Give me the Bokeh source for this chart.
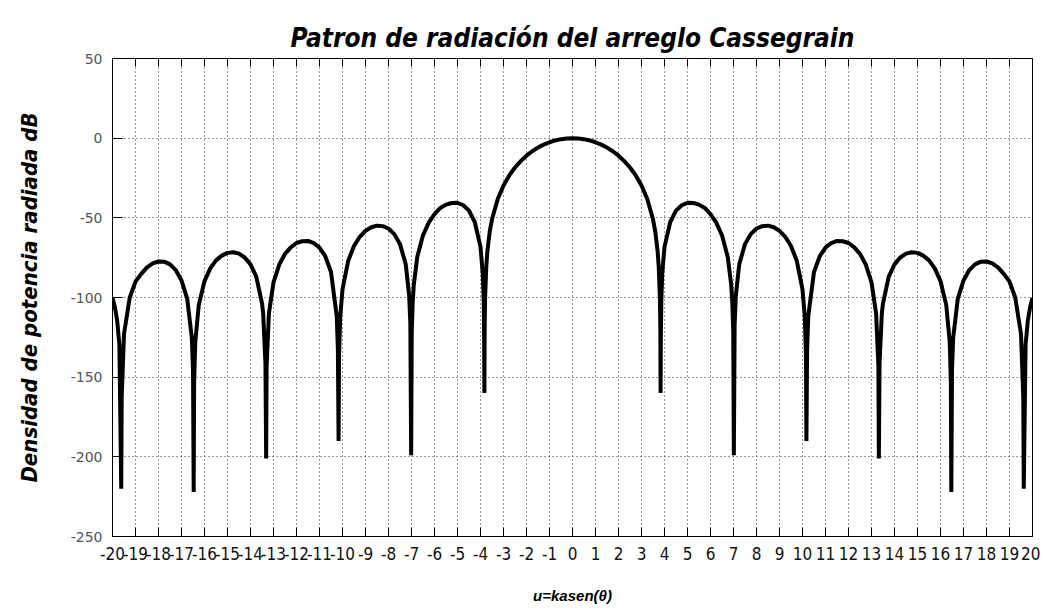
from bokeh.plotting import figure
from bokeh.models import FixedTicker, LinearAxis, Range1d, CustomJSTickFormatter
from bokeh.embed import file_html
from bokeh.resources import INLINE

# Radiation pattern values (u >= 0 side; the pattern is symmetric)
u_pos = [0, 0.25, 0.5, 0.75, 1.0, 1.25, 1.5, 1.75, 2.0, 2.25, 2.5, 2.75, 3.0, 3.25, 3.5, 3.6, 3.7, 3.75,
         3.8, 3.82, 3.83, 3.84, 3.86, 3.9, 4.0, 4.25, 4.5, 4.75, 5.0, 5.25, 5.5, 5.75, 6.0, 6.25, 6.5, 6.75,
         6.9, 6.95, 6.99, 7.015, 7.05, 7.1, 7.25, 7.5, 7.75, 8.0, 8.25, 8.5, 8.75, 9.0, 9.25, 9.5, 9.75,
         10.0, 10.1, 10.15, 10.17, 10.2, 10.25, 10.5, 10.75, 11.0, 11.25, 11.5, 11.75, 12.0, 12.25, 12.5,
         12.75, 13.0, 13.2, 13.3, 13.32, 13.35, 13.45, 13.5, 13.75, 14.0, 14.25, 14.5, 14.75, 15.0, 15.25,
         15.5, 15.75, 16.0, 16.25, 16.4, 16.45, 16.47, 16.5, 16.55, 16.75, 17.0, 17.25, 17.5, 17.75, 18.0,
         18.25, 18.5, 18.75, 19.0, 19.25, 19.5, 19.6, 19.62, 19.7, 19.8, 19.9, 20.0]
db_pos = [0, -0.16, -0.63, -1.43, -2.55, -4.04, -5.92, -8.22, -11.0, -14.4, -18.4, -23.4, -29.7, -38.2,
          -50.9, -58.7, -70.8, -80.9, -100.1, -120.1, -160, -127.1, -102.6, -85.2, -68.2, -52.6, -45.5,
          -42.1, -40.6, -40.7, -41.7, -43.8, -47.7, -53.0, -61.0, -74.6, -92.0, -103.5, -122.4, -199,
          -116.7, -98.9, -79.1, -66.5, -60.2, -56.7, -55.2, -54.9, -55.9, -58.2, -61.9, -67.7, -76.9,
          -94.9, -112.3, -135.2, -190, -132.9, -111.8, -84.0, -74.1, -68.7, -65.8, -64.5, -64.7, -65.8,
          -68.5, -72.6, -79.3, -90.5, -110.0, -143.1, -201, -141.2, -109.9, -103.6, -86.9, -79.2, -74.9,
          -72.5, -71.6, -72.0, -73.7, -76.7, -81.7, -89.7, -104.8, -127.6, -152.3, -222, -145.3, -125.5,
          -100.9, -89.3, -82.8, -79.2, -77.5, -77.4, -78.6, -81.1, -85.2, -90.0, -100.0, -122.9, -163,
          -220, -129.6, -114.2, -105.8, -100.2]

u_vals = [-x for x in reversed(u_pos[1:])] + u_pos
db_vals = list(reversed(db_pos[1:])) + db_pos

x_ticks = list(range(-20, 21))
y_ticks = [-250, -200, -150, -100, -50, 0, 50]

title_text = "Patron de radiación del arreglo Cassegrain"
x_label = "u=kasen(θ)"
y_label = "Densidad de potencia radiada dB"

narrow = "'DejaVu Sans Condensed', 'Liberation Sans Narrow', 'Liberation Sans', sans-serif"

p = figure(width=1040, height=606, x_range=Range1d(-20, 20), y_range=Range1d(-250, 50),
           output_backend="svg", toolbar_location=None,
           min_border_left=112, min_border_right=8, min_border_top=58, min_border_bottom=69,
           title=title_text, x_axis_label=x_label, y_axis_label=y_label)

p.background_fill_color = "white"
p.border_fill_color = "white"
p.outline_line_color = "black"
p.outline_line_width = 1

p.title.align = "center"
p.title.text_font = narrow
p.title.text_font_style = "bold italic"
p.title.text_font_size = "26px"
p.title.text_color = "black"
p.title.standoff = 12

p.line(u_vals, db_vals, line_color="black", line_width=4)

# x axis (bottom)
xa = p.xaxis[0]
xa.ticker = FixedTicker(ticks=x_ticks)
xa.formatter = CustomJSTickFormatter(code="return tick.toString();")
xa.minor_tick_line_color = None
xa.major_tick_in = 9
xa.major_tick_out = 0
xa.major_tick_line_color = "black"
xa.axis_line_color = "black"
xa.major_label_text_font = narrow
xa.major_label_text_font_size = "17px"
xa.major_label_text_color = "#111111"
xa.major_label_standoff = 10
xa.axis_label_text_font = "Liberation Sans"
xa.axis_label_text_font_style = "bold italic"
xa.axis_label_text_font_size = "15px"
xa.axis_label_text_color = "black"
xa.axis_label_standoff = 24

# y axis (left)
ya = p.yaxis[0]
ya.ticker = FixedTicker(ticks=y_ticks)
ya.formatter = CustomJSTickFormatter(code="return tick.toString();")
ya.minor_tick_line_color = None
ya.major_tick_in = 10
ya.major_tick_out = 0
ya.major_tick_line_color = "black"
ya.axis_line_color = "black"
ya.major_label_text_font = "DejaVu Sans"
ya.major_label_text_font_size = "14px"
ya.major_label_text_color = "#555555"
ya.major_label_standoff = 10
ya.axis_label_text_font = narrow
ya.axis_label_text_font_style = "bold italic"
ya.axis_label_text_font_size = "22px"
ya.axis_label_text_color = "black"
ya.axis_label_standoff = 26

# top axis: tick marks only
top = LinearAxis(ticker=FixedTicker(ticks=x_ticks),
                 formatter=CustomJSTickFormatter(code="return '';"))
top.minor_tick_line_color = None
top.major_tick_in = 8
top.major_tick_out = 0
top.major_label_standoff = 0
top.axis_line_color = "black"
p.add_layout(top, "above")

# grid
p.xgrid.ticker = FixedTicker(ticks=x_ticks)
p.ygrid.ticker = FixedTicker(ticks=y_ticks)
for g in (p.xgrid[0], p.ygrid[0]):
    g.grid_line_color = "#333333"
    g.grid_line_dash = "1 3"
    g.grid_line_width = 1

open("out.html", "w").write(file_html(p, INLINE))
